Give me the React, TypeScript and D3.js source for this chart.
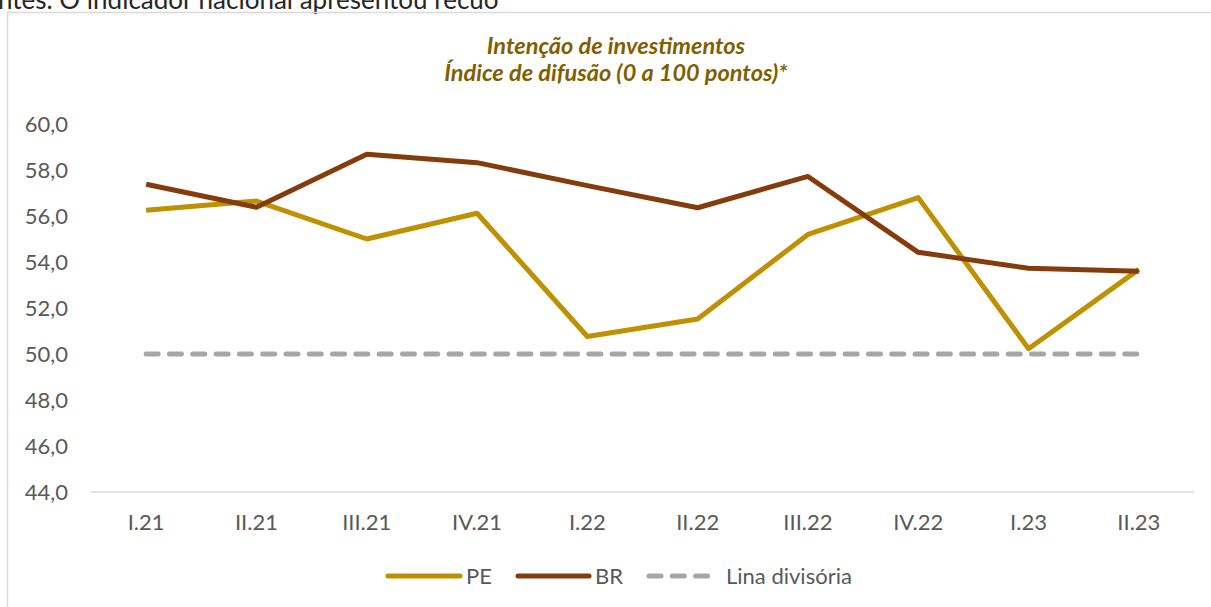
import React from "react";
import * as d3 from "d3";

const categories = ["I.21", "II.21", "III.21", "IV.21", "I.22", "II.22", "III.22", "IV.22", "I.23", "II.23"];
const peValues = [56.25, 56.65, 55.0, 56.12, 50.76, 51.52, 55.2, 56.8, 50.23, 53.68];
const brValues = [57.38, 56.38, 58.68, 58.32, 57.32, 56.36, 57.72, 54.42, 53.73, 53.6];
const dividerValue = 50;
const yTicks = [44, 46, 48, 50, 52, 54, 56, 58, 60];
const titleLines = ["Intenção de investimentos", "Índice de difusão (0 a 100 pontos)*"];
const legendItems = ["PE", "BR", "Lina divisória"];
const topText = "ntes. O indicador nacional apresentou recuo";

const W = 1211;
const H = 607;
const plotLeft = 91;
const plotRight = 1194;
const plotTop = 124;
const plotBottom = 492;

const PE_COLOR = "#BF9000";
const BR_COLOR = "#843C0C";
const DIV_COLOR = "#A6A6A6";
const TEXT_COLOR = "#595959";
const TITLE_COLOR = "#7F6000";
const FONT = "Lato, 'Open Sans', sans-serif";
const TICK_SIZE = 22;

export default function App() {
  const x = d3.scaleBand<string>().domain(categories).range([plotLeft, plotRight]);
  const cx = (c: string) => (x(c) as number) + x.bandwidth() / 2;
  const y = d3.scaleLinear().domain([44, 60]).range([plotBottom, plotTop]);
  const fmt = (v: number) => d3.format(".1f")(v).replace(".", ",");

  const line = d3
    .line<number>()
    .x((_, i) => cx(categories[i]))
    .y((v) => y(v));

  const divider = categories.map(() => dividerValue);

  const legendY = 576;
  const legend = [
    { label: legendItems[0], x1: 388, x2: 460, tx: 466, color: PE_COLOR, dash: false },
    { label: legendItems[1], x1: 518, x2: 589, tx: 595, color: BR_COLOR, dash: false },
    { label: legendItems[2], x1: 649, x2: 714, tx: 726, color: DIV_COLOR, dash: true },
  ];

  return (
    <svg
      width={W}
      height={H}
      style={{ position: "absolute", left: 0, top: 0, background: "#fff" }}
      fontFamily={FONT}
    >
      <rect x={0} y={0} width={W} height={H} fill="#fff" />
      <text x={-2} y={8.5} fontSize={26} fill="#262626">
        {topText}
      </text>
      <rect x={7.5} y={12.5} width={W + 10} height={H + 10} fill="none" stroke="#D9D9D9" strokeWidth={1.5} />

      {titleLines.map((t, i) => (
        <text
          key={i}
          x={616}
          y={54 + i * 27}
          textAnchor="middle"
          fontSize={23.5}
          fontWeight="bold"
          fontStyle="italic"
          fill={TITLE_COLOR}
        >
          {t}
        </text>
      ))}

      {yTicks.map((t) => (
        <text key={t} x={68} y={y(t)} dy="0.35em" textAnchor="end" fontSize={TICK_SIZE} fill={TEXT_COLOR}>
          {fmt(t)}
        </text>
      ))}

      <line x1={plotLeft} x2={plotRight} y1={plotBottom} y2={plotBottom} stroke="#D9D9D9" strokeWidth={1.5} />

      {categories.map((c) => (
        <text key={c} x={cx(c)} y={530} textAnchor="middle" fontSize={TICK_SIZE} fill={TEXT_COLOR}>
          {c}
        </text>
      ))}

      <path
        d={line(divider) || ""}
        fill="none"
        stroke={DIV_COLOR}
        strokeWidth={5}
        strokeLinecap="round"
        strokeDasharray="12 11.3"
      />
      <path d={line(peValues) || ""} fill="none" stroke={PE_COLOR} strokeWidth={5} strokeLinejoin="round" />
      <path d={line(brValues) || ""} fill="none" stroke={BR_COLOR} strokeWidth={5} strokeLinejoin="round" />

      {legend.map((l) => (
        <g key={l.label}>
          <line
            x1={l.x1}
            x2={l.x2}
            y1={legendY}
            y2={legendY}
            stroke={l.color}
            strokeWidth={5}
            strokeLinecap="round"
            strokeDasharray={l.dash ? "12 11.3" : undefined}
          />
          <text x={l.tx} y={legendY} dy="0.35em" fontSize={TICK_SIZE} fill={TEXT_COLOR}>
            {l.label}
          </text>
        </g>
      ))}
    </svg>
  );
}
